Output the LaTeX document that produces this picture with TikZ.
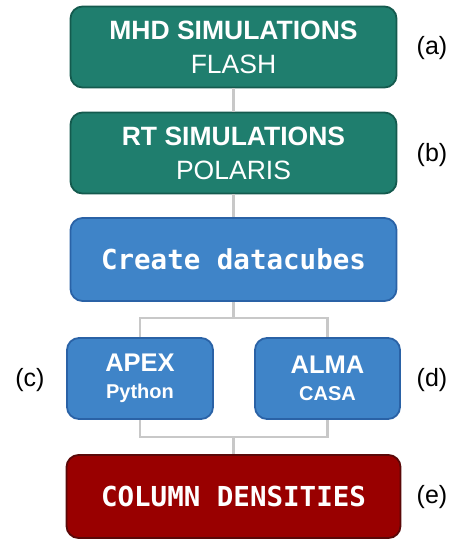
\documentclass[tikz,border=0pt]{standalone}
\usepackage{fontspec}
\setmainfont{Liberation Sans}
\setmonofont{DejaVu Sans Mono}
\usetikzlibrary{positioning}

\definecolor{simgreen}{HTML}{1F7E6E}
\definecolor{simgreenline}{HTML}{145A4E}
\definecolor{cubeblue}{HTML}{3F84C8}
\definecolor{cubeblueline}{HTML}{2A62A6}
\definecolor{densred}{HTML}{990000}
\definecolor{densredline}{HTML}{5A0808}
\definecolor{linkgray}{HTML}{C8C8C8}

\tikzset{
  flowbox/.style={rounded corners=12pt, line width=1.8pt, text=white, inner sep=0pt, align=center},
  simbox/.style={flowbox, fill=simgreen, draw=simgreenline, minimum width=326pt, minimum height=81pt,
    font=\fontsize{26.5}{34}\selectfont},
  cubebox/.style={flowbox, fill=cubeblue, draw=cubeblueline},
  link/.style={draw=linkgray, line width=2.6pt},
  tag/.style={font=\fontsize{25}{30}\selectfont}
}

\begin{document}
\begin{tikzpicture}[x=1pt, y=-1pt]
    \useasboundingbox (0, 0) rectangle (456, 539);

    \node[simbox] (mhd) at (233.5, 47) {\textbf{MHD SIMULATIONS}\\FLASH};
    \node[simbox] (rt) at (233.5, 153) {\textbf{RT SIMULATIONS}\\POLARIS};
    \node[cubebox, minimum width=326pt, minimum height=83pt, font=\ttfamily\bfseries\fontsize{27.5}{30}\selectfont]
      (cubes) at (233.5, 259.5) {Create datacubes};

    \node[cubebox, minimum width=146pt, minimum height=81pt, font=\bfseries\fontsize{25.5}{27}\selectfont]
      (apex) at (140, 378.5) {APEX\\\fontsize{20}{27}\selectfont Python};
    \node[cubebox, minimum width=145pt, minimum height=81pt, font=\bfseries\fontsize{25.5}{27}\selectfont]
      (alma) at (327.5, 378.5) {ALMA\\\fontsize{20}{27}\selectfont CASA};

    \node[flowbox, fill=densred, draw=densredline, minimum width=334pt, minimum height=83pt,
      font=\ttfamily\bfseries\fontsize{27.5}{30}\selectfont] (dens) at (233.5, 496.5) {COLUMN DENSITIES};

    % labels
    \node[tag] (la) at (432, 48) {(a)};
    \node[tag] (lb) at (432, 155) {(b)};
    \node[tag] (lc) at (30, 380) {(c)};
    \node[tag] (ld) at (432, 380) {(d)};
    \node[tag] (le) at (432, 497) {(e)};

    \coordinate (split) at (233.5, 318);
    \coordinate (merge) at (233.5, 437);

    \draw[link] (mhd.south) -- (rt.north);
    \draw[link] (rt.south) -- (cubes.north);
    \draw[link] (cubes.south) -- (split);
    \draw[link] (apex.north) |- (split) -| (alma.north);
    \draw[link] (apex.south) |- (merge) -| (alma.south);
    \draw[link] (merge) -- (dens.north);
  \end{tikzpicture}
\end{document}
